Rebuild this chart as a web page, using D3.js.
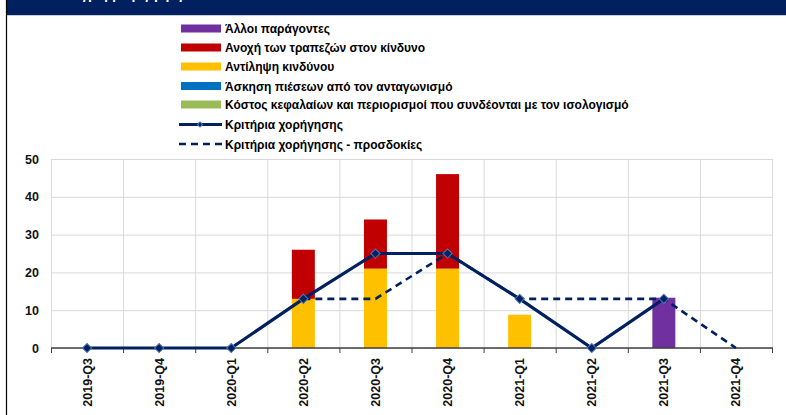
<!DOCTYPE html>
<html>
<head>
<meta charset="utf-8">
<script src="https://cdn.jsdelivr.net/npm/d3@7"></script>
<style>
  body { margin: 0; background: #fff; }
  svg { display: block; font-family: "Liberation Sans", Arial, sans-serif; }
  .grid line { stroke: #d9d9d9; stroke-width: 1; }
  .grid path { display: none; }
</style>
</head>
<body>
<div id="chart"></div>
<script>
var categories = ['2019-Q3', '2019-Q4', '2020-Q1', '2020-Q2', '2020-Q3', '2020-Q4', '2021-Q1', '2021-Q2', '2021-Q3', '2021-Q4'];
var otherFactors = [0, 0, 0, 0, 0, 0, 0, 0, 13.3, 0];
var riskTolerance = [0, 0, 0, 13, 13, 25, 0, 0, 0, 0];
var riskPerception = [0, 0, 0, 13, 21, 21, 8.8, 0, 0, 0];
var competition = [0, 0, 0, 0, 0, 0, 0, 0, 0, 0];
var costOfFunds = [0, 0, 0, 0, 0, 0, 0, 0, 0, 0];
var creditStandards = [0, 0, 0, 13, 25, 25, 13, 0, 13, null];
var expectations = [null, null, null, 13, 13, 25, 13, 13, 13, 0];
var yTicks = [0, 10, 20, 30, 40, 50];

var legendNames = [
  'Άλλοι παράγοντες',
  'Ανοχή των τραπεζών στον κίνδυνο',
  'Αντίληψη κινδύνου',
  'Άσκηση πιέσεων από τον ανταγωνισμό',
  'Κόστος κεφαλαίων και περιορισμοί που συνδέονται με τον ισολογισμό',
  'Κριτήρια χορήγησης',
  'Κριτήρια χορήγησης - προσδοκίες'
];

var navy = '#002060';
var colors = {
  other: '#7030a0',
  tolerance: '#c00000',
  perception: '#ffc000',
  competition: '#0070c0',
  cost: '#9bbb59'
};

var graph = { width: 786, height: 415, left: 51, right: 772, top: 159, bottom: 348 };

var svg = d3.select('#chart').append('svg')
  .attr('width', graph.width)
  .attr('height', graph.height);

// header band (title cut off at the top)
svg.append('rect')
  .attr('x', 7).attr('y', 0)
  .attr('width', graph.width - 7).attr('height', 15)
  .attr('fill', navy);
svg.append('line')
  .attr('x1', 7).attr('x2', graph.width)
  .attr('y1', 15.5).attr('y2', 15.5)
  .attr('stroke', '#c8cdd8');
svg.append('text')
  .attr('x', 60).attr('y', -1)
  .attr('fill', '#fff')
  .attr('font-size', 13)
  .attr('font-weight', 'bold')
  .text('Διάγραμμα ρ γ ρ ρ γ');
svg.append('line')
  .attr('x1', 6.5).attr('x2', 6.5)
  .attr('y1', 0).attr('y2', graph.height)
  .attr('stroke', '#000').attr('stroke-width', 1.2);

var x = d3.scaleBand().domain(categories).range([graph.left, graph.right]);
var y = d3.scaleLinear().domain([0, 50]).range([graph.bottom, graph.top]);

// gridlines
svg.append('g')
  .attr('class', 'grid')
  .attr('transform', 'translate(' + graph.left + ',0)')
  .call(d3.axisLeft(y).tickValues(yTicks).tickSize(-(graph.right - graph.left)).tickFormat(''));

var bounds = categories.map(function(c) { return x(c); }).concat([graph.right]);
svg.append('g').attr('class', 'grid')
  .selectAll('line')
  .data(bounds)
  .enter().append('line')
  .attr('x1', function(d) { return d + 0.5; })
  .attr('x2', function(d) { return d + 0.5; })
  .attr('y1', graph.top)
  .attr('y2', graph.bottom);

// stacked bars
var keys = ['cost', 'competition', 'perception', 'tolerance', 'other'];
var rows = categories.map(function(c, i) {
  return {
    cat: c,
    cost: costOfFunds[i],
    competition: competition[i],
    perception: riskPerception[i],
    tolerance: riskTolerance[i],
    other: otherFactors[i]
  };
});
var stacked = d3.stack().keys(keys)(rows);
var barW = 23;

svg.append('g').selectAll('g')
  .data(stacked)
  .enter().append('g')
  .attr('fill', function(d) { return colors[d.key]; })
  .selectAll('rect')
  .data(function(d) { return d; })
  .enter().append('rect')
  .attr('x', function(d) { return x(d.data.cat) + x.bandwidth() / 2 - barW / 2; })
  .attr('width', barW)
  .attr('y', function(d) { return y(d[1]); })
  .attr('height', function(d) { return y(d[0]) - y(d[1]); });

// bottom axis
var xAxis = svg.append('g')
  .attr('transform', 'translate(0,' + graph.bottom + ')');
xAxis.append('line')
  .attr('x1', graph.left).attr('x2', graph.right + 1)
  .attr('stroke', '#404040').attr('stroke-width', 1.3);
xAxis.selectAll('line.tick')
  .data(bounds)
  .enter().append('line')
  .attr('class', 'tick')
  .attr('x1', function(d) { return d + 0.5; })
  .attr('x2', function(d) { return d + 0.5; })
  .attr('y1', 0).attr('y2', 5)
  .attr('stroke', '#404040');
xAxis.selectAll('text')
  .data(categories)
  .enter().append('text')
  .attr('transform', function(d) {
    return 'translate(' + (x(d) + x.bandwidth() / 2 + 4.5) + ',10) rotate(-90)';
  })
  .attr('text-anchor', 'end')
  .attr('font-size', 12.5)
  .attr('font-weight', 'bold')
  .attr('fill', '#111')
  .text(function(d) { return d; });

// y labels
svg.append('g').selectAll('text')
  .data(yTicks)
  .enter().append('text')
  .attr('x', 39)
  .attr('y', function(d) { return y(d) + 4.5; })
  .attr('text-anchor', 'end')
  .attr('font-size', 12.5)
  .attr('font-weight', 'bold')
  .attr('fill', '#111')
  .text(function(d) { return d; });

// lines
var lineGen = d3.line()
  .defined(function(d) { return d != null; })
  .x(function(d, i) { return x(categories[i]) + x.bandwidth() / 2; })
  .y(function(d) { return y(d); });

svg.append('path')
  .datum(expectations)
  .attr('fill', 'none')
  .attr('stroke', navy)
  .attr('stroke-width', 2.6)
  .attr('stroke-dasharray', '7,5')
  .attr('d', lineGen);

svg.append('path')
  .datum(creditStandards)
  .attr('fill', 'none')
  .attr('stroke', navy)
  .attr('stroke-width', 3.2)
  .attr('d', lineGen);

// square diamonds (rotated squares), like the Excel markers
var diamond = d3.symbol().type(d3.symbolSquare).size(42);
svg.append('g').selectAll('path')
  .data(creditStandards.map(function(v, i) { return { v: v, c: categories[i] }; })
    .filter(function(d) { return d.v != null; }))
  .enter().append('path')
  .attr('d', diamond)
  .attr('transform', function(d) {
    return 'translate(' + (x(d.c) + x.bandwidth() / 2) + ',' + y(d.v) + ') rotate(45)';
  })
  .attr('fill', navy)
  .attr('stroke', '#4a78b8')
  .attr('stroke-width', 1);

// legend
var legendColors = [colors.other, colors.tolerance, colors.perception, colors.competition, colors.cost];
var legend = svg.append('g');
var rowY = [28.5, 47.5, 66.5, 86, 104.5, 124.5, 144];

legendNames.forEach(function(name, i) {
  var g = legend.append('g').attr('transform', 'translate(0,' + rowY[i] + ')');
  if (i < 5) {
    g.append('rect')
      .attr('x', 181).attr('y', -4)
      .attr('width', 40).attr('height', 8)
      .attr('fill', legendColors[i]);
  } else if (i === 5) {
    g.append('line')
      .attr('x1', 179).attr('x2', 222)
      .attr('stroke', navy).attr('stroke-width', 3);
    g.append('path')
      .attr('d', d3.symbol().type(d3.symbolSquare).size(14))
      .attr('transform', 'translate(200,0) rotate(45)')
      .attr('fill', navy)
      .attr('stroke', '#4a78b8');
  } else {
    g.append('line')
      .attr('x1', 179).attr('x2', 222)
      .attr('stroke', navy).attr('stroke-width', 2.6)
      .attr('stroke-dasharray', '7,5');
  }
  g.append('text')
    .attr('x', 225).attr('y', 4.5)
    .attr('font-size', 12)
    .attr('font-weight', 'bold')
    .attr('fill', '#000')
    .text(name);
});
</script>
</body>
</html>
